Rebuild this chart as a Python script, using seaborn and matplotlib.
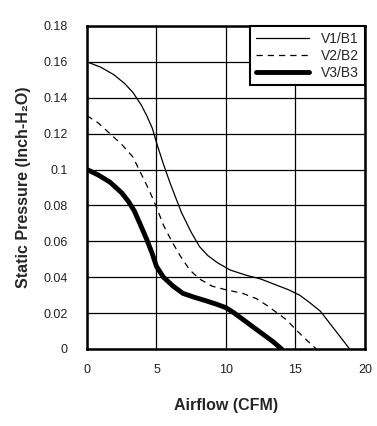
import matplotlib
matplotlib.use("Agg")
import matplotlib.pyplot as plt
import seaborn as sns

# Curves (airflow CFM, static pressure inch-H2O)
v1_x = [0, 1, 1.9, 2.7, 3.3, 3.9, 4.3, 4.7, 5.0, 5.5, 6.0, 6.8, 7.5, 8.1, 8.7, 9.4, 10.3, 11.5, 12.5, 13.5, 14.5, 15.3, 16.0, 16.8, 17.4, 18.0, 18.5, 18.9]
v1_y = [0.160, 0.157, 0.153, 0.148, 0.143, 0.136, 0.130, 0.123, 0.115, 0.103, 0.092, 0.076, 0.065, 0.057, 0.052, 0.048, 0.044, 0.041, 0.039, 0.036, 0.033, 0.030, 0.026, 0.021, 0.015, 0.009, 0.004, 0.0]

v2_x = [0, 0.8, 1.65, 2.5, 3.3, 4.0, 4.5, 5.0, 5.5, 6.1, 6.7, 7.4, 8.1, 9.0, 10.0, 11.2, 12.2, 13.0, 13.7, 14.4, 15.0, 15.8, 16.5]
v2_y = [0.130, 0.126, 0.120, 0.114, 0.107, 0.096, 0.088, 0.079, 0.069, 0.060, 0.052, 0.044, 0.039, 0.035, 0.033, 0.031, 0.028, 0.024, 0.020, 0.016, 0.011, 0.005, 0.0]

v3_x = [0, 0.8, 1.65, 2.5, 3.0, 3.4, 3.8, 4.3, 4.7, 5.0, 5.5, 6.2, 6.9, 7.65, 8.5, 9.3, 10.0, 10.6, 11.3, 12.0, 12.7, 13.4, 14.0]
v3_y = [0.100, 0.097, 0.093, 0.087, 0.082, 0.077, 0.070, 0.061, 0.053, 0.046, 0.040, 0.035, 0.031, 0.029, 0.027, 0.025, 0.023, 0.020, 0.016, 0.012, 0.008, 0.004, 0.0]

x_ticks = [0, 5, 10, 15, 20]
y_ticks = [0, 0.02, 0.04, 0.06, 0.08, 0.1, 0.12, 0.14, 0.16, 0.18]
y_tick_labels = ["0", "0.02", "0.04", "0.06", "0.08", "0.1", "0.12", "0.14", "0.16", "0.18"]

sns.set_style("white")
plt.rcParams["font.family"] = ["Liberation Sans", "DejaVu Sans"]

fig = plt.figure(figsize=(3.77, 4.26), dpi=100)
ax = fig.add_axes([0.2308, 0.1808, 0.7372, 0.7582])

sns.lineplot(x=v1_x, y=v1_y, ax=ax, color="black", linewidth=0.9, label="V1/B1", sort=False)
sns.lineplot(x=v2_x, y=v2_y, ax=ax, color="black", linewidth=0.9, linestyle=(0, (5, 4)), label="V2/B2", sort=False)
sns.lineplot(x=v3_x, y=v3_y, ax=ax, color="black", linewidth=3.5, label="V3/B3", sort=False)

ax.set_xlim(0, 20)
ax.set_ylim(0, 0.18)
ax.set_xticks(x_ticks)
ax.set_yticks(y_ticks)
ax.set_yticklabels(y_tick_labels)
ax.tick_params(axis="both", length=0, labelsize=9, colors="#222222")
ax.tick_params(axis="x", pad=11)
ax.tick_params(axis="y", pad=14)
ax.grid(True, color="black", linewidth=0.9)
for s in ax.spines.values():
    s.set_visible(True)
    s.set_color("black")
    s.set_linewidth(1.8)

ax.set_xlabel("Airflow (CFM)", fontsize=11.5, fontweight="bold", labelpad=16)
ax.set_ylabel("Static Pressure (Inch-H\u2082O)", fontsize=11.5, fontweight="bold", labelpad=9)

leg = ax.legend(loc="upper right", fontsize=10, frameon=True, fancybox=False,
                borderaxespad=0, handlelength=3.8, handletextpad=0.9, labelspacing=0.22,
                borderpad=0.4)
leg.get_frame().set_edgecolor("black")
leg.get_frame().set_linewidth(1.5)
leg.get_frame().set_alpha(1)

fig.savefig("out.png", dpi=100)
